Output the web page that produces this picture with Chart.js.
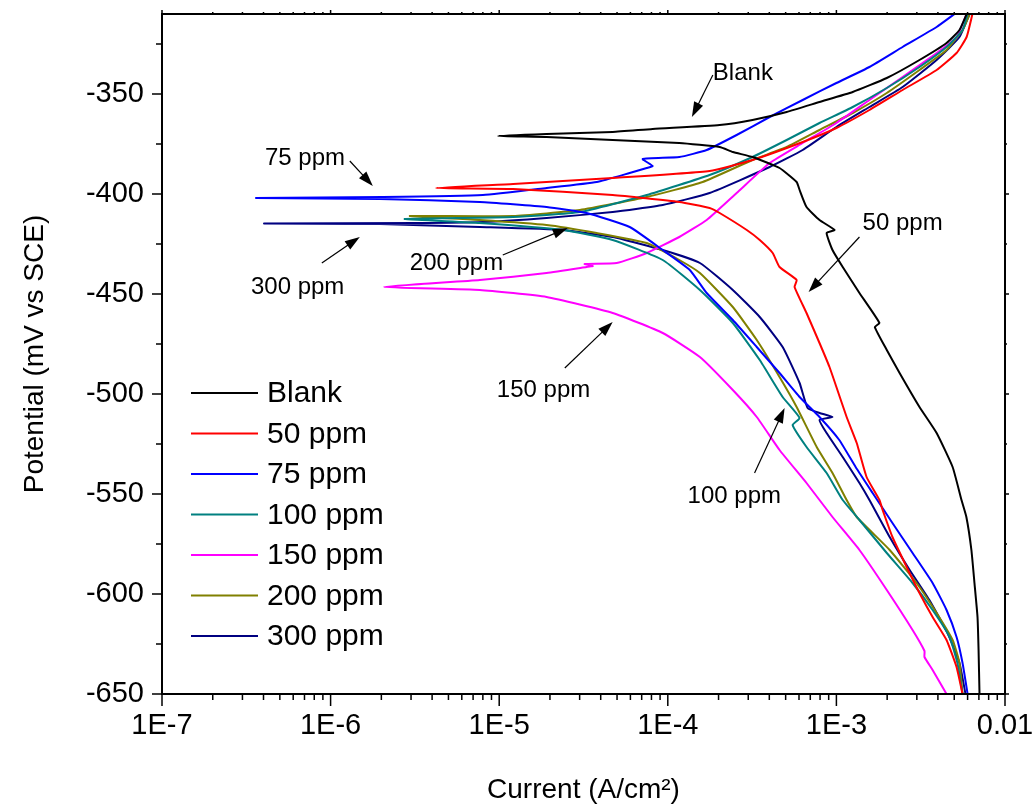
<!DOCTYPE html>
<html>
<head>
<meta charset="utf-8">
<script src="https://cdn.jsdelivr.net/npm/chart.js@4.4.0/dist/chart.umd.min.js"></script>
<style>
  html, body { margin: 0; padding: 0; background: #fff; }
</style>
</head>
<body>
<canvas id="tafel" width="1033" height="807"></canvas>
<script>
// Tafel curves: current in A/cm2, potential in mV vs SCE.
// Each curve runs from the bottom of the cathodic branch up to Ecorr and out along the anodic branch.
const seriesNames = ['Blank', '50 ppm', '75 ppm', '100 ppm', '150 ppm', '200 ppm', '300 ppm'];
const seriesColors = ['#000000', '#ff0000', '#0000ff', '#008080', '#ff00ff', '#808000', '#000080'];

const blankCurrent = [7.06e-3, 6.97e-3, 6.87e-3, 6.59e-3, 6.32e-3, 5.90e-3, 5.52e-3, 4.89e-3, 3.93e-3, 3.11e-3, 2.37e-3, 1.99e-3, 1.69e-3, 1.80e-3, 1.37e-3, 1.09e-3, 9.48e-4, 8.75e-4, 9.75e-4, 7.94e-4, 6.65e-4, 6.05e-4, 5.81e-4, 4.60e-4, 3.18e-4, 2.43e-4, 2.03e-4, 1.17e-4, 4.71e-5, 1.91e-5, 9.82e-6, 1.91e-5, 4.71e-5, 8.13e-5, 2.03e-4, 3.18e-4, 5.07e-4, 7.94e-4, 1.25e-3, 1.99e-3, 3.11e-3, 4.50e-3, 5.37e-3, 5.92e-3];
const blankPotential = [-650, -628, -611.5, -594.5, -578, -561.5, -553, -536.5, -519.5, -506.5, -489.5, -478, -466.5, -464.5, -449.5, -436.5, -428, -419.5, -418, -413, -406.5, -398, -394, -387, -381.5, -379, -376.5, -374.5, -373, -371.5, -371, -370, -369, -367.5, -365.5, -363, -359, -354, -349, -342, -333, -324.5, -318, -310];

const ppm50Current = [5.60e-3, 5.16e-3, 4.50e-3, 3.72e-3, 3.11e-3, 2.61e-3, 2.15e-3, 1.88e-3, 1.80e-3, 1.51e-3, 1.32e-3, 1.15e-3, 1.00e-3, 9.10e-4, 7.94e-4, 6.65e-4, 5.65e-4, 5.81e-4, 4.60e-4, 4.19e-4, 3.51e-4, 2.94e-4, 2.03e-4, 1.77e-4, 1.17e-4, 4.71e-5, 1.21e-5, 4.21e-6, 1.21e-5, 4.71e-5, 1.77e-4, 3.18e-4, 6.31e-4, 1.00e-3, 1.57e-3, 2.47e-3, 3.93e-3, 5.16e-3, 5.92e-3, 6.41e-3];
const ppm50Potential = [-650, -636.5, -623, -611.5, -599.5, -586.5, -571.5, -558, -553, -541.5, -524.5, -511.5, -496.5, -486.5, -474.5, -459.5, -446.5, -443, -436.5, -429.5, -423, -418, -409.5, -407, -404, -400.5, -397.5, -397, -395, -392, -388.5, -383, -374, -367, -358, -348, -338, -329.5, -321.5, -310];

const ppm75Current = [6.00e-3, 5.60e-3, 5.16e-3, 4.50e-3, 3.72e-3, 2.83e-3, 2.15e-3, 1.64e-3, 1.30e-3, 1.04e-3, 7.94e-4, 6.05e-4, 4.60e-4, 3.37e-4, 2.43e-4, 1.70e-4, 1.35e-4, 9.33e-5, 5.94e-5, 3.30e-5, 1.91e-5, 7.67e-6, 1.96e-6, 3.61e-7, 2.04e-6, 8.00e-6, 1.91e-5, 3.79e-5, 5.94e-5, 7.50e-5, 8.13e-5, 7.10e-5, 1.17e-4, 1.70e-4, 2.56e-4, 4.02e-4, 6.31e-4, 1.00e-3, 1.57e-3, 2.47e-3, 3.93e-3, 5.02e-3];
const ppm75Potential = [-650, -634.5, -621.5, -608, -594.5, -579.5, -564.5, -549.5, -536.5, -523, -511.5, -501.5, -489.5, -476.5, -463, -449.5, -438, -428, -416.5, -409.5, -406.5, -404, -402.5, -402, -401.5, -400.5, -397, -394, -389.5, -387, -386, -382.5, -381.5, -378, -370.5, -361.5, -353, -344.5, -336.5, -326.5, -316.5, -310];

const ppm100Current = [5.60e-3, 5.22e-3, 4.69e-3, 3.72e-3, 2.83e-3, 1.99e-3, 1.37e-3, 1.09e-3, 8.75e-4, 6.65e-4, 5.50e-4, 6.05e-4, 4.80e-4, 3.51e-4, 2.43e-4, 1.55e-4, 9.33e-5, 4.71e-5, 2.38e-5, 7.67e-6, 2.75e-6, 1.21e-5, 3.01e-5, 7.50e-5, 1.77e-4, 3.18e-4, 5.07e-4, 7.94e-4, 1.25e-3, 1.99e-3, 3.11e-3, 4.50e-3, 5.60e-3, 6.00e-3];
const ppm100Potential = [-650, -634.5, -621.5, -608, -594.5, -579.5, -563, -553, -539.5, -526.5, -515.5, -512, -501.5, -483, -464.5, -448, -433, -423, -418, -414.5, -412.5, -411.5, -409, -400.5, -390.5, -381.5, -373, -364.5, -356.5, -347, -336.5, -326.5, -318, -310];

const ppm150Current = [4.50e-3, 3.72e-3, 3.33e-3, 3.33e-3, 2.83e-3, 1.99e-3, 1.37e-3, 9.48e-4, 6.65e-4, 4.60e-4, 3.37e-4, 2.43e-4, 1.55e-4, 9.33e-5, 4.71e-5, 1.91e-5, 7.67e-6, 2.07e-6, 7.67e-6, 1.91e-5, 3.30e-5, 3.59e-5, 3.21e-5, 4.98e-5, 7.50e-5, 1.17e-4, 1.70e-4, 2.56e-4, 4.02e-4, 6.31e-4, 1.00e-3, 1.57e-3, 2.47e-3, 3.93e-3, 5.16e-3, 5.92e-3];
const ppm150Potential = [-650, -638, -631.5, -628.5, -618, -598, -578, -561.5, -544.5, -528, -511.5, -498, -481.5, -469.5, -459.5, -451.5, -448, -446.5, -443, -439.5, -436.5, -436, -435, -434.5, -429.5, -421.5, -413, -399.5, -384.5, -374.5, -364.5, -353, -341.5, -329.5, -321.5, -310];

const ppm200Current = [5.60e-3, 5.37e-3, 4.89e-3, 3.93e-3, 2.99e-3, 2.07e-3, 1.32e-3, 1.15e-3, 9.48e-4, 7.64e-4, 5.81e-4, 4.60e-4, 3.37e-4, 2.43e-4, 1.55e-4, 1.17e-4, 7.50e-5, 3.79e-5, 1.91e-5, 7.67e-6, 2.95e-6, 1.21e-5, 3.01e-5, 7.50e-5, 1.61e-4, 3.18e-4, 5.07e-4, 7.94e-4, 1.25e-3, 1.99e-3, 3.11e-3, 4.50e-3, 5.60e-3, 6.17e-3];
const ppm200Potential = [-650, -634.5, -623, -609.5, -594.5, -578, -561.5, -553, -539.5, -526.5, -506.5, -491.5, -473, -456.5, -439.5, -433, -424.5, -419.5, -415.5, -413, -411, -411, -408, -401.5, -394, -383, -376.5, -368, -359.5, -349.5, -338, -328, -318, -310];

const ppm300Current = [5.83e-3, 5.37e-3, 4.56e-3, 3.56e-3, 2.72e-3, 2.07e-3, 1.57e-3, 1.37e-3, 1.09e-3, 8.75e-4, 7.94e-4, 9.48e-4, 7.94e-4, 6.75e-4, 6.05e-4, 4.80e-4, 3.51e-4, 2.43e-4, 1.55e-4, 9.33e-5, 4.71e-5, 2.38e-5, 7.67e-6, 1.96e-6, 4.03e-7, 3.25e-6, 8.00e-6, 1.91e-5, 4.71e-5, 9.33e-5, 1.77e-4, 4.02e-4, 6.31e-4, 1.00e-3, 1.57e-3, 2.47e-3, 3.93e-3, 5.37e-3, 6.17e-3];
const ppm300Potential = [-650, -634.5, -619.5, -603, -588, -571.5, -553, -544.5, -531.5, -519.5, -513, -511.5, -509.5, -507, -494.5, -476.5, -461.5, -448, -434.5, -428, -421.5, -418, -416.5, -415, -414.75, -414.5, -414, -412, -409, -405.5, -399.5, -386.5, -378, -366.5, -356.5, -346.5, -333, -321.5, -310];

const xTickValues = [1e-7, 1e-6, 1e-5, 1e-4, 1e-3, 1e-2];
const xTickLabels = ['1E-7', '1E-6', '1E-5', '1E-4', '1E-3', '0.01'];
const yTickValues = [-650, -600, -550, -500, -450, -400, -350];

// text callouts with arrows, in data coordinates
const callouts = [
  { text: 'Blank',   at: [1.85e-4, -343],   tail: [1.85e-4, -340.5], head: [1.39e-4, -361.5] },
  { text: '75 ppm',  at: [4.08e-7, -385.5], tail: [1.30e-6, -383.5], head: [1.78e-6, -396] },
  { text: '300 ppm', at: [3.37e-7, -450],   tail: [8.87e-7, -434.5], head: [1.49e-6, -421.5] },
  { text: '200 ppm', at: [2.95e-6, -438],   tail: [1.05e-5, -430.5], head: [2.55e-5, -417] },
  { text: '150 ppm', at: [9.68e-6, -501.5], tail: [2.45e-5, -487],   head: [4.71e-5, -464] },
  { text: '50 ppm',  at: [1.43e-3, -418],   tail: [1.37e-3, -421.5], head: [6.84e-4, -449] },
  { text: '100 ppm', at: [1.31e-4, -554.5], tail: [3.27e-4, -539.5], head: [4.93e-4, -507] }
];

const currents = [blankCurrent, ppm50Current, ppm75Current, ppm100Current, ppm150Current, ppm200Current, ppm300Current];
const potentials = [blankPotential, ppm50Potential, ppm75Potential, ppm100Potential, ppm150Potential, ppm200Potential, ppm300Potential];

const FONT = '"Liberation Sans", Arial, sans-serif';

const datasets = seriesNames.map((name, i) => ({
  label: name,
  data: currents[i].map((c, j) => ({ x: c, y: potentials[i][j] })),
  borderColor: seriesColors[i],
  backgroundColor: seriesColors[i],
  borderWidth: 2,
  pointRadius: 0,
  showLine: true,
  tension: 0.15
}));

function arrow(ctx, x1, y1, x2, y2) {
  const ang = Math.atan2(y2 - y1, x2 - x1);
  const len = 15, half = 5;
  ctx.beginPath();
  ctx.moveTo(x1, y1);
  ctx.lineTo(x2 - Math.cos(ang) * len * 0.8, y2 - Math.sin(ang) * len * 0.8);
  ctx.stroke();
  ctx.beginPath();
  ctx.moveTo(x2, y2);
  ctx.lineTo(x2 - Math.cos(ang) * len - Math.sin(ang) * half, y2 - Math.sin(ang) * len + Math.cos(ang) * half);
  ctx.lineTo(x2 - Math.cos(ang) * len + Math.sin(ang) * half, y2 - Math.sin(ang) * len - Math.cos(ang) * half);
  ctx.closePath();
  ctx.fill();
}

const framePlugin = {
  id: 'frame',
  afterDatasetsDraw(chart) {
    const { ctx, chartArea: a, scales: { x, y } } = chart;
    ctx.save();
    ctx.strokeStyle = '#000';
    ctx.fillStyle = '#000';

    // ticks, all pointing outwards
    ctx.lineWidth = 1.5;
    ctx.beginPath();
    for (let e = -7; e <= -2; e++) {
      for (let k = 1; k <= 9; k++) {
        const v = k * Math.pow(10, e);
        if (v > 0.0100001) break;
        const px = x.getPixelForValue(v);
        const major = k === 1;
        ctx.moveTo(px, a.bottom); ctx.lineTo(px, a.bottom + (major ? 12 : 6));
        ctx.moveTo(px, a.top); ctx.lineTo(px, a.top - (major ? 4 : 2));
      }
    }
    for (let v = -650; v <= -310; v += 25) {
      const py = y.getPixelForValue(v);
      const major = v % 50 === 0;
      ctx.moveTo(a.left, py); ctx.lineTo(a.left - (major ? 10 : 6), py);
      ctx.moveTo(a.right, py); ctx.lineTo(a.right + (major ? 4 : 2), py);
    }
    ctx.stroke();

    ctx.lineWidth = 2;
    ctx.strokeRect(a.left, a.top, a.right - a.left, a.bottom - a.top);

    // legend, inside the plot at lower left
    ctx.font = '30px ' + FONT;
    ctx.textBaseline = 'middle';
    ctx.textAlign = 'left';
    chart.data.datasets.forEach((ds, i) => {
      const ly = 393 + i * 40.5;
      ctx.strokeStyle = ds.borderColor;
      ctx.lineWidth = 2;
      ctx.beginPath();
      ctx.moveTo(191, ly);
      ctx.lineTo(258, ly);
      ctx.stroke();
      ctx.fillStyle = '#000';
      ctx.fillText(ds.label, 267, ly + 1);
    });

    // callouts
    ctx.strokeStyle = '#000';
    ctx.fillStyle = '#000';
    ctx.lineWidth = 1.2;
    ctx.font = '24px ' + FONT;
    ctx.textBaseline = 'alphabetic';
    callouts.forEach(c => {
      ctx.fillText(c.text, x.getPixelForValue(c.at[0]), y.getPixelForValue(c.at[1]));
      arrow(ctx,
        x.getPixelForValue(c.tail[0]), y.getPixelForValue(c.tail[1]),
        x.getPixelForValue(c.head[0]), y.getPixelForValue(c.head[1]));
    });
    ctx.restore();
  }
};

new Chart(document.getElementById('tafel'), {
  type: 'scatter',
  data: { datasets },
  options: {
    responsive: false,
    animation: false,
    devicePixelRatio: 1,
    layout: { padding: { left: 0, top: 14, right: 28, bottom: 0 } },
    plugins: { legend: { display: false }, tooltip: { enabled: false } },
    scales: {
      x: {
        type: 'logarithmic',
        min: 1e-7,
        max: 1e-2,
        grid: { display: false, drawTicks: false },
        border: { display: false },
        afterBuildTicks: s => { s.ticks = xTickValues.map(v => ({ value: v })); },
        afterFit: s => { s.height = 113; s.paddingLeft = 0; s.paddingRight = 0; },
        ticks: {
          autoSkip: false,
          maxRotation: 0,
          padding: 15,
          color: '#000',
          font: { family: FONT, size: 29 },
          callback: (v, i) => xTickLabels[i]
        },
        title: {
          display: true,
          text: 'Current (A/cm²)',
          color: '#000',
          font: { family: FONT, size: 28 },
          padding: { top: 0, bottom: 0 }
        }
      },
      y: {
        min: -650,
        max: -310,
        grid: { display: false, drawTicks: false },
        border: { display: false },
        afterBuildTicks: s => { s.ticks = yTickValues.map(v => ({ value: v })); },
        afterFit: s => { s.width = 162; s.paddingTop = 0; s.paddingBottom = 0; },
        ticks: {
          padding: 18,
          color: '#000',
          font: { family: FONT, size: 29 },
          callback: v => String(v)
        },
        title: {
          display: true,
          text: 'Potential (mV vs SCE)',
          color: '#000',
          font: { family: FONT, size: 28 },
          padding: { top: 18, bottom: 0 }
        }
      }
    }
  },
  plugins: [framePlugin]
});
</script>
</body>
</html>
